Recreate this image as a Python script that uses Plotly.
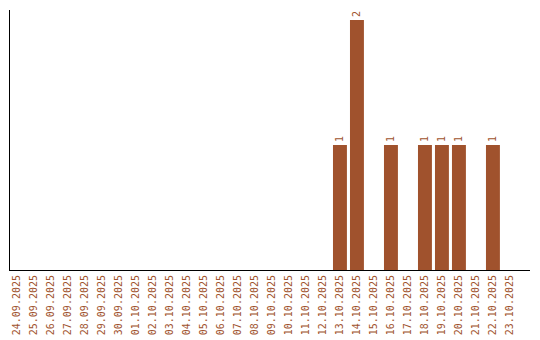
import plotly.graph_objects as go

dates = ["24.09.2025","25.09.2025","26.09.2025","27.09.2025","28.09.2025","29.09.2025",
         "30.09.2025","01.10.2025","02.10.2025","03.10.2025","04.10.2025","05.10.2025",
         "06.10.2025","07.10.2025","08.10.2025","09.10.2025","10.10.2025","11.10.2025",
         "12.10.2025","13.10.2025","14.10.2025","15.10.2025","16.10.2025","17.10.2025",
         "18.10.2025","19.10.2025","20.10.2025","21.10.2025","22.10.2025","23.10.2025"]
counts = [0,0,0,0,0,0,0,0,0,0,0,0,0,0,0,0,0,0,0,1,2,0,1,0,1,1,1,0,1,0]

labels = [str(c) if c > 0 else "" for c in counts]
color = "#a0522d"
font = "DejaVu Sans Mono"

fig = go.Figure(go.Bar(
    x=dates, y=counts, text=labels, textposition="outside", textangle=-90,
    textfont=dict(family=font, size=10, color=color),
    marker=dict(color=color, line=dict(width=0)), width=0.82, cliponaxis=False,
))
fig.update_layout(
    width=540, height=340, margin=dict(l=10, r=10, t=10, b=70, autoexpand=False),
    plot_bgcolor="white", paper_bgcolor="white", showlegend=False,
    xaxis=dict(type="category", range=[-0.41, 30.18], showline=True, linecolor="black",
               linewidth=1, showgrid=False, ticks="", tickangle=-90, automargin=False,
               tickfont=dict(family=font, size=10, color=color)),
    yaxis=dict(range=[0, 2.08], showline=True, linecolor="black", linewidth=1,
               showgrid=False, showticklabels=False, ticks="", zeroline=False,
               automargin=False),
)
fig.write_html("out.html")
